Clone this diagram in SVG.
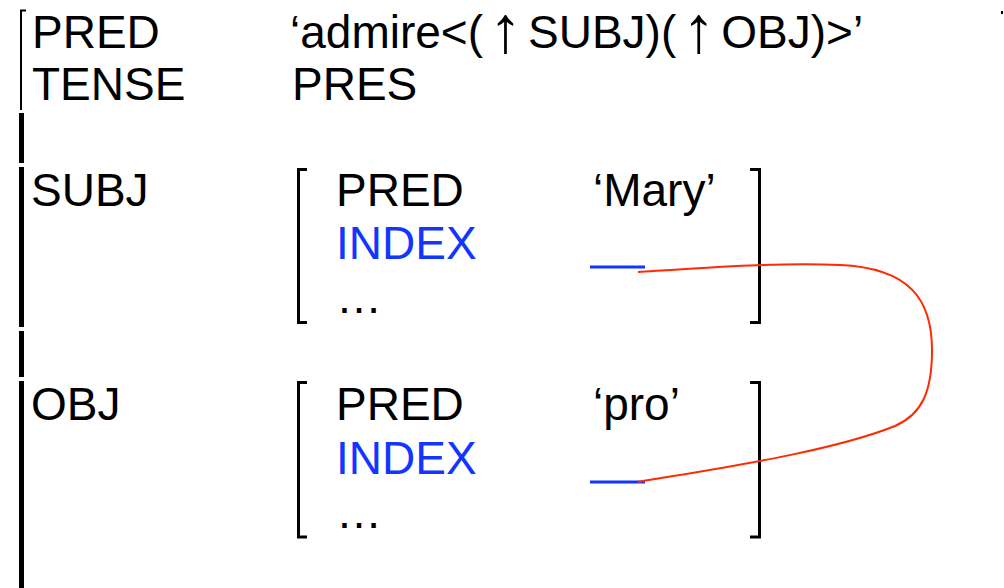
<svg xmlns="http://www.w3.org/2000/svg" width="1004" height="588" viewBox="0 0 1004 588">
  <style>
    text { font-family: "Liberation Sans", Arial, sans-serif; font-size: 46px; fill: #000; }
    text.idx { fill: #1236ff; }
    tspan.up { font-size: 66px; }
    .brk { fill: none; stroke: #000; stroke-width: 3; }
    .bar { stroke: #000; stroke-width: 5; }
    .gap { stroke: #1236ff; stroke-width: 3; }
    .link { fill: none; stroke: #ff2a00; stroke-width: 2; }
  </style>

  <!-- outer f-structure bracket -->
  <g id="outer-bracket">
    <path d="M26,10.5 H21 V110" fill="none" stroke="#000" stroke-width="2"/>
    <line class="bar" x1="21.5" y1="113" x2="21.5" y2="163"/>
    <line class="bar" x1="21.5" y1="167" x2="21.5" y2="327"/>
    <line class="bar" x1="21.5" y1="331" x2="21.5" y2="377"/>
    <line class="bar" x1="21.5" y1="381" x2="21.5" y2="588"/>
    <rect x="1001" y="11" width="2" height="3" fill="#000"/>
  </g>

  <!-- top-level attributes -->
  <g id="pred">
    <text x="32" y="48">PRED</text>
    <text x="290" y="48">‘admire&lt;(<tspan class="up" dx="6" dy="4">↑</tspan><tspan dx="6" dy="-4">SUBJ)(</tspan><tspan class="up" dx="6" dy="4">↑</tspan><tspan dx="6" dy="-4">OBJ)&gt;’</tspan></text>
  </g>
  <g id="tense">
    <text x="32" y="100">TENSE</text>
    <text x="292" y="100">PRES</text>
  </g>

  <!-- SUBJ sub-structure -->
  <g id="subj">
    <text x="31" y="206">SUBJ</text>
    <path class="brk" d="M307,169.5 H298.5 V322.5 H307"/>
    <path class="brk" d="M750,169.5 H759.5 V322.5 H750"/>
    <text x="336" y="206">PRED</text>
    <text x="593" y="206">‘Mary’</text>
    <text class="idx" x="336" y="259">INDEX</text>
    <line class="gap" x1="590" y1="267" x2="645" y2="267"/>
    <text x="336" y="313">…</text>
  </g>

  <!-- OBJ sub-structure -->
  <g id="obj">
    <text x="31" y="420">OBJ</text>
    <path class="brk" d="M307,382.5 H298.5 V537 H307"/>
    <path class="brk" d="M750,382.5 H759.5 V537 H750"/>
    <text x="336" y="420">PRED</text>
    <text x="593" y="420">‘pro’</text>
    <text class="idx" x="336" y="474">INDEX</text>
    <line class="gap" x1="590" y1="482" x2="645" y2="482"/>
    <text x="336" y="528">…</text>
  </g>

  <!-- coindexation link -->
  <g id="connectors">
    <path class="link" d="M638,272 C700,268 780,262 840,265 C910,268 932,300 932,350 C932,392 922,414 895,426 C830,452 720,468 638,482"/>
  </g>
</svg>
